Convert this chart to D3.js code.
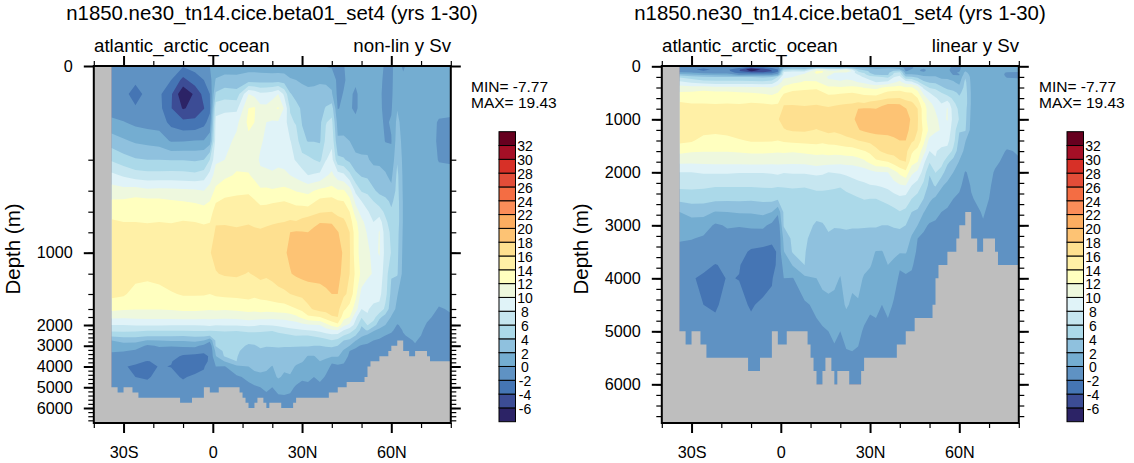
<!DOCTYPE html>
<html>
<head>
<meta charset="utf-8">
<script src="https://cdn.jsdelivr.net/npm/d3@7"></script>
<style>
  body { margin: 0; background: #fff; }
  text { font-family: "Liberation Sans", Arial, sans-serif; fill: #000; }
</style>
</head>
<body>
<svg id="chart" width="1134" height="463"></svg>
<script>
// contour levels and fill colours (one colour more than levels)
var levels = [-6,-4,-2,0,2,4,6,8,10,12,14,16,18,20,22,24,26,28,30,32];
var colors = ["#2c2366","#3c4c95","#4575b4","#5f92c3","#74add1","#8fc1de","#abd9e9","#c6e6f0","#e0f3f8",
  "#eef8de","#ffffbf","#fff0a6","#fee090","#fdc374","#fdae61","#fc8d59","#f46d43","#e34d38","#d73027","#a50f26","#67001f"];

var depths = [0,30,60,90,120,160,200,300,400,500,600,700,800,1000,1200,1400,1600,1800,2000,2250,2500,2750,3000,3250,3500,3750,4000,4500,5000,6000];
var lats = [-34,-30,-26,-22,-18,-14,-10,-6,-3,-1,1,4,8,12,14,16,18,20,22,24,26,28,30,32,34,36,38,40,42,44,46,48,50,52,54,56,58,60,62,64,68,72,76,80];

// Sv, one line per latitude, one value per depth
var psi = [
  [-1.6,-1.5,-1.4,-1,0.5,3,5.7,8.5,11,12.2,13.2,14.3,14.8,15.5,15.5,14.6,12.5,10.5,8,6.5,4.6,2,1.6,0.2,-0.6,-1,-1.3,-1.4,-1.4,-1.4],
  [-1.7,-1.8,-1.7,-1.3,0.1,2.3,4.8,7.7,10.7,12.3,13.2,14,14.8,15.5,15.8,14.3,12.2,10.4,8,6.5,4.8,2.7,1,0.1,-1,-1.6,-1.9,-1.7,-1.5,-1.5],
  [-1.6,-1.8,-2.4,-1.9,-0.5,1.7,4.2,6.9,11,12.6,13.3,14,14.9,15.6,14.8,13.2,12.1,10.5,8.2,6.4,4.8,2.6,1,-0.3,-1,-1.7,-2.2,-2,-1.5,-1.5],
  [-1.5,-1.6,-1.7,-1.5,-0.8,1.4,4,6.7,10.5,12.5,13.3,13.9,14.7,15.6,14.6,13,12.1,10.6,8.2,6.2,4.5,1.9,-0.3,-1,-1.4,-2.05,-2.6,-2.2,-1.5,-1.5],
  [-1.2,-1.4,-1.6,-1.4,-0.9,1.1,4,6.7,10.6,12.5,13.4,14,14.8,15.7,14.9,13.2,12.1,10.6,8.2,6.2,4.4,2,0.2,-0.6,-1.3,-1.8,-1.9,-1.5,-1.4,-1.4],
  [-1.6,-2,-3.7,-3.9,-2.6,-0.2,3.9,6.8,10.5,12.2,13.3,13.9,14.8,15.7,15.3,13.8,12.2,10.6,8.1,6.2,4.4,2.2,0.1,-0.7,-1.3,-1.9,-2.05,-1.5,-1.3,-1.3],
  [-1.8,-4.6,-7.7,-6.2,-3.5,-0.1,3.9,6.7,10.4,12,13.2,14.1,15,15.8,15.4,14.2,12.4,10.7,8.1,6.2,4.3,2.2,0.3,-0.9,-2.3,-2.8,-2.8,-2.2,-1.4,-1.3],
  [-1.3,-2.9,-5.6,-5.3,-3.5,0.1,3.7,6.5,10.3,11.8,13,14,15,15.8,15.5,14.2,12.4,10.7,8.1,6.3,4.5,2.5,0.4,-1.1,-2.5,-3,-3,-1.6,-1.3,-1.3],
  [-0.8,-2,-3.3,-4.1,-2.6,0.1,4,7,10,11.5,12.7,13.7,15,15.9,15.4,14.2,12.3,10.6,8.2,6.3,4.6,2,-0.5,-1.6,-2.5,-2.9,-2.2,-1.5,-1,-1],
  [0,-0.8,-2,-2.5,-1.2,1,6,8.7,11,12,13,13.9,15.2,15.9,15.4,14,12.2,10.6,8.4,6.2,4.3,0.5,-1.7,-1.9,-1.8,-1.5,-0.8,-0.7,-0.7,-0.7],
  [0.6,2.2,4.3,7.3,8.5,8.9,9.6,11,12.4,13.8,15,15.9,16.2,16.5,15.9,14.3,12.3,10.6,8.1,6.2,4.8,4.3,4.2,2.5,1.9,0.5,0,-0.5,-0.7,-0.7],
  [0.8,2.8,5,7.6,8.8,9.2,10,11.6,13.2,14.4,15.1,15.8,16.5,17,16.2,14.5,12.2,10.5,8.2,6.3,5,5.6,5.2,4.5,4.2,2.1,-0.1,-0.8,-1,-1],
  [1,2.6,4.8,7.5,9.5,10.5,11.4,12.2,13.4,14.7,15.5,15.9,16.1,16.8,16.3,14.6,12.4,10.6,8.2,6.2,4.8,4.5,4.5,4.3,4.1,4,1.5,-0.3,-0.8,-1],
  [1.2,3,10,12,12.5,11.5,11,12.2,13.6,14.8,15.7,15.9,16.3,17,15.9,14.8,12.6,11,8.5,6.5,5.2,4.4,3.8,3.2,3,2.5,2,0.4,-0.4,-1.5],
  [1.2,3,9.5,12.2,12,11,10.5,11.5,13,14.2,15.3,15.8,16.2,17.1,16.2,14.5,12.5,10.9,8.3,6.6,5.1,4.4,3.9,3.6,3.2,2.7,2.6,1.2,-0.3,-1.3],
  [1.1,3,8.5,10.6,10.5,10.2,9.8,10.3,12.4,13.5,14.8,15.6,16.2,17.2,16.6,14.7,12.8,10.8,8,6.5,5,4.5,4.2,3.8,3.3,2.8,2.7,1.5,0,-1.1],
  [1,3,8.6,10.5,10,9.7,9.5,10.4,12.4,13.6,14.8,15.7,16.4,17.3,16.3,14.9,12.7,10.7,8.1,6.4,4.9,4.5,4.1,3.6,3.2,2.7,2.4,1.5,0.3,-1],
  [0.9,3,9,11.5,9.8,9.2,9,10.4,12.2,13.8,14.8,15.8,16.6,17.5,16.5,15.2,12.8,10.6,8.2,6.2,4.9,4.4,4.1,3.7,3.1,2.5,1.9,1.2,0,-1],
  [1,3,10,12.2,9.8,9.2,9.3,10.7,12.3,13.9,15,15.9,17,17.6,17,15.4,13,10.7,8.4,6.8,5.1,4.3,4.1,3.8,3.4,3.2,3,2.3,0.5,-1],
  [1,2.9,7.6,9.8,9.2,9,9.2,10.5,12.5,14,15.3,16,17.5,17.8,17.4,15.6,13.1,10.7,8.6,7.2,5.4,4.3,4.1,3.7,3.3,2.8,2.5,1.6,0.6,-1],
  [0.8,2.2,4.2,5.8,6.4,8.1,8.6,10,12.3,13.7,15.2,16.2,18,18.3,17.9,16,13.5,11,8.8,7.5,5.8,4.4,4.1,3.7,3.2,2.7,2.6,1.8,0.4,-1],
  [0.7,2,3.2,4.8,5.8,7,7.8,9.5,11.9,13.3,15,16.1,18.2,18.7,18.3,16.3,13.9,11.6,8.9,7.7,6.1,4.5,4.1,3.6,3,2.5,1.8,0.7,-0.2,-1],
  [0.4,1.7,2.8,3.6,3.9,4.5,6.9,8.8,11.7,13.2,15,16.6,18.1,18.9,18.6,16.5,14.5,12.5,9.4,7.9,6,4.6,4.1,3.5,2.6,2.1,1.6,0.4,-0.7,-1],
  [0.2,1.5,2.5,3,3.5,3.9,6.5,8,11.5,13,15,17,18,19.2,18.8,16.8,15.6,13.6,9.8,8,6,4.7,4.1,3.5,1.9,1.6,1.4,0.5,-0.5,-1],
  [0.2,1.6,2.5,3,3.5,3.9,6,8.2,12,13.8,15.4,17.4,18.6,19.3,18.9,16.9,16.2,13.8,9.9,8.2,6.3,4.8,4,3.2,1.9,1.5,1.3,0,-0.6,-1],
  [0.2,1.8,2.5,3,3.5,3.8,5.5,8.5,12.5,14.5,15.8,17.9,19,19.4,19,17,16.8,14,10,8.5,6.7,5,4,3.2,2.6,2,1.4,0.6,-0.6,-1],
  [-0.1,1.7,2.6,4.2,5.9,6.5,7.9,9.7,12.6,14.7,15.9,17.9,18.8,19.3,18.9,17.6,16.7,15,11.3,9.2,7.1,5.4,4.2,3.1,2.4,1.6,0.7,-0.2,-0.8,-1],
  [-0.3,1.5,2.2,5,6.5,7.5,8.7,10.5,12.7,14.8,16,17.9,18.5,19.2,18.8,18,16.5,15.9,12.5,9.8,7.5,5.9,4.4,3,2.2,0.2,-0.3,-0.5,-0.8,-1],
  [-0.5,-0.6,-0.5,-0.1,1.2,2.3,4.5,9,12.2,14.2,15.3,17,18.1,18.6,18.6,18,16.6,16,13.5,10,7.2,5.5,4,2.8,2.2,0.6,-0.3,-0.6,-0.8,-1],
  [-0.1,-0.2,0.1,0.3,1,2.4,4.2,8.5,12.2,14,15,16.5,17.3,17.8,17.4,16.4,14.4,12.8,10.5,8,6,4,2.6,1.8,1,0.2,-0.3,-0.6,-0.8,-1],
  [0.8,0.5,0.2,0.2,0.8,2,3.5,6.5,11,12.5,14,15,16,16.2,16,15.5,13.2,12,9.5,7,5.3,3.6,2,0,-0.4,-0.6,-0.7,-0.8,-0.9,-1],
  [1,0.2,-0.2,-0.3,0.4,1.2,2.5,4.5,7.5,9.5,11,12.5,13,13,13.6,12.6,11,8.5,7.2,5.5,4,2.1,0.4,-0.4,-0.6,-0.7,-0.8,-0.9,-1,-1],
  [0.8,0.5,0.4,0.6,0.9,1.2,2.3,3.8,5.8,8,9.2,10.5,11,11,11.5,9.3,8,6.2,4.2,3.4,2.4,1,-0.2,-0.5,-0.7,-0.8,-0.9,-1,-1,-1],
  [0.9,0.8,0.5,0.8,1,1.4,2.2,3.6,5.5,7,8.2,9.2,9.8,10.5,10.5,8.5,8.1,7.9,6.1,4.2,1.6,0.5,-0.3,-0.6,-0.7,-0.8,-0.9,-1,-1,-1],
  [0.8,0.7,0.5,0.3,0.6,0.9,1.5,2.9,4.3,6,7.2,8,8.4,9.3,9.8,8.5,7.7,6.9,5,2.2,1.2,0,-0.4,-0.6,-0.7,-0.8,-0.9,-1,-1,-1],
  [0.7,0.5,0.3,0.3,0.5,1,1.6,2.6,3.5,5,7,9,10.2,10.2,9,8.5,7.5,4.5,2.8,1.6,0.4,-0.2,-0.5,-0.7,-0.8,-0.9,-1,-1,-1,-1],
  [-0.3,-0.5,-0.5,-0.4,-0.3,-0.1,1.3,2.2,3,4.6,5.5,6.5,7,7.3,7.2,6.8,5.5,3.2,2,1,0,-0.4,-0.6,-0.7,-0.8,-1,-1,-1,-1,-1],
  [-0.2,-0.2,-0.2,-0.2,0.2,-0.1,0.5,1.5,2.5,3.6,4.3,5,5.6,5.9,4.2,3.4,2.8,1.9,1,0.3,-0.3,-0.5,-0.7,-0.8,-1,-1,-1,-1,-1,-1],
  [0.5,0.6,0.8,1.9,2.5,3,3.8,4.5,4.7,4.9,5,5,4.7,4.5,4.2,2.1,1.6,0.9,-0.1,-0.5,-0.6,-0.9,-1,-1,-1,-1,-1,-1,-1,-1],
  [-0.2,0.3,0.8,1,1.2,1.4,1.5,1.6,1.7,1.8,1.8,1.8,1.7,1.5,1.3,1,0.8,0.5,0.3,0.1,-0.1,-0.4,-0.6,-0.8,-1,-1,-1,-1,-1,-1],
  [1,1,1,1,1,1,1,1,1,1,1,1,1,1,1,1,0.9,0.8,0.7,0.6,0.4,0.1,-0.1,-0.3,-0.5,-0.7,-0.9,-1,-1,-1],
  [1,1,1,1,1,1,1,1,1,1,1,1,1,1,1,0.9,0.6,0.2,-0.1,-0.3,-0.4,-0.5,-0.6,-0.7,-0.8,-0.8,-0.8,-0.8,-0.8,-0.8],
  [1,1,1,0.6,-0.2,-0.3,-0.1,0.5,0.9,1,1,1,1,1,0.9,0.5,-0.1,-0.3,-0.4,-0.5,-0.5,-0.6,-0.6,-0.6,-0.6,-0.6,-0.6,-0.6,-0.6,-0.6],
  [1,1,1,0.5,-0.3,-0.4,-0.2,0.5,0.9,1,1,1,1,1,1,0.5,0.1,-0.1,-0.3,-0.4,-0.5,-0.5,-0.5,-0.5,-0.5,-0.5,-0.5,-0.5,-0.5,-0.5]
];

// sea floor, held until the next latitude
var floorLats = [-40,-34,-32,-30,-27,-25,-11,-7,-3,-1,2,9,10,11,12,14,15,17,18,19,23,27,28,39,42,45,51,52,53,56,59,60,62,64,66,68,72,73,80];
var floorDepths = [0,5000,5250,5000,5250,5500,5750,5500,5000,5250,5000,5250,5500,5750,6000,5750,5500,5750,6000,5750,6000,5750,5500,5250,5000,4750,4500,4000,3750,3500,3250,3000,2750,3250,3500,3250,3500,3750,3750];

var title = "n1850.ne30_tn14.cice.beta01_set4 (yrs 1-30)";
var basin = "atlantic_arctic_ocean";
var minLabel = "MIN= -7.77", maxLabel = "MAX= 19.43";
var latTicks = [-30,0,30,60], latMinor = [-40,-20,-10,10,20,40,50,70,80];
var depthMajor = [0,1000,2000,3000,4000,5000,6000];
var depthMinor = d3.range(200, 6800, 200);

// stops of the stretched depth axis on the left panel
var stretchDepth = [0,200,400,600,800,1000,1200,1400,1600,1800,2000,6000,6730];
var stretchY = [66,159.7,190.7,211.7,232.3,252.7,273.7,294,309,317,325,408,423];

var svg = d3.select("#chart");
var top_ = 66, bottom_ = 423;

var flat = [];
depths.forEach(function (d, j) {
  lats.forEach(function (l, i) { flat.push(psi[i][j]); });
});
var contours = d3.contours().size([lats.length, depths.length]).thresholds(levels)(flat);
var latOfGrid = d3.scaleLinear().domain(d3.range(lats.length)).range(lats).clamp(true);
var depthOfGrid = d3.scaleLinear().domain(d3.range(depths.length)).range(depths).clamp(true);

function latLabel(v) {
  if (v === 0) return "0";
  return v < 0 ? -v + "S" : v + "N";
}

function drawPanel(cfg) {
  var g = svg.append("g").attr("transform", "translate(" + cfg.dx + ",0)");
  var x = d3.scaleLinear().domain([-40, 80]).range([93.8, 450.8]);
  var y = cfg.y;
  var clipId = "clip" + cfg.dx;

  g.append("clipPath").attr("id", clipId).append("rect")
    .attr("x", x(-40)).attr("y", top_).attr("width", x(80) - x(-40)).attr("height", bottom_ - top_);

  var plot = g.append("g").attr("clip-path", "url(#" + clipId + ")");
  plot.append("rect").attr("x", x(-40)).attr("y", top_)
    .attr("width", x(80) - x(-40)).attr("height", bottom_ - top_).attr("fill", colors[0]);

  var path = d3.geoPath(d3.geoTransform({
    point: function (gx, gy) {
      this.stream.point(x(latOfGrid(gx - 0.5)), y(depthOfGrid(gy - 0.5)));
    }
  }));
  plot.selectAll("path.band").data(contours).enter().append("path")
    .attr("class", "band")
    .attr("d", path)
    .attr("fill", function (d, i) { return colors[i + 1]; });

  var floorData = floorLats.map(function (l, i) { return [l, floorDepths[i]]; });
  plot.append("path")
    .datum(floorData)
    .attr("fill", "#bebebe")
    .attr("d", d3.area().curve(d3.curveStepAfter)
      .x(function (d) { return x(d[0]); })
      .y0(bottom_ + 2)
      .y1(function (d) { return y(d[1]); }));

  // axes, ticks mirrored on all four sides
  function styleAxis(sel, w) {
    sel.select(".domain").remove();
    sel.selectAll("line").attr("stroke", "#000").attr("stroke-width", w);
    sel.selectAll("text").style("font-size", "16.2px");
  }
  g.append("g").attr("transform", "translate(0," + bottom_ + ")")
    .call(d3.axisBottom(x).tickValues(latTicks).tickSize(10).tickPadding(13.5).tickFormat(latLabel))
    .call(styleAxis, 2);
  g.append("g").attr("transform", "translate(0," + bottom_ + ")")
    .call(d3.axisBottom(x).tickValues(latMinor).tickSize(5).tickFormat(""))
    .call(styleAxis, 1.2);
  g.append("g").attr("transform", "translate(0," + top_ + ")")
    .call(d3.axisTop(x).tickValues(latTicks).tickSize(10).tickFormat(""))
    .call(styleAxis, 2);
  g.append("g").attr("transform", "translate(0," + top_ + ")")
    .call(d3.axisTop(x).tickValues(latMinor).tickSize(5).tickFormat(""))
    .call(styleAxis, 1.2);

  g.append("g").attr("transform", "translate(" + x(-40) + ",0)")
    .call(d3.axisLeft(y).tickValues(depthMajor).tickSize(10).tickPadding(11).tickFormat(d3.format("d")))
    .call(styleAxis, 2);
  g.append("g").attr("transform", "translate(" + x(-40) + ",0)")
    .call(d3.axisLeft(y).tickValues(depthMinor).tickSize(5.5).tickFormat(""))
    .call(styleAxis, 1.2);
  g.append("g").attr("transform", "translate(" + x(80) + ",0)")
    .call(d3.axisRight(y).tickValues(depthMajor).tickSize(10).tickFormat(""))
    .call(styleAxis, 2);
  g.append("g").attr("transform", "translate(" + x(80) + ",0)")
    .call(d3.axisRight(y).tickValues(depthMinor).tickSize(5.5).tickFormat(""))
    .call(styleAxis, 1.2);

  g.append("rect").attr("x", x(-40)).attr("y", top_)
    .attr("width", x(80) - x(-40)).attr("height", bottom_ - top_)
    .attr("fill", "none").attr("stroke", "#000").attr("stroke-width", 2);

  // titles
  g.append("text").attr("x", 272).attr("y", 19.5).attr("text-anchor", "middle")
    .style("font-size", "20.4px").text(title);
  g.append("text").attr("x", 94).attr("y", 52).style("font-size", "18.7px").text(basin);
  g.append("text").attr("x", 451).attr("y", 52).attr("text-anchor", "end")
    .style("font-size", "18.7px").text(cfg.label);
  g.append("text").attr("transform", "translate(20,249) rotate(-90)").attr("text-anchor", "middle")
    .style("font-size", "20.5px").text("Depth (m)");

  g.append("text").attr("x", 471).attr("y", 91.5).style("font-size", "15.5px").text(minLabel);
  g.append("text").attr("x", 471).attr("y", 108).style("font-size", "15.5px").text(maxLabel);

  // colour bar
  var bar = d3.scaleLinear().domain([0, colors.length]).range([421.7, 131.7]);
  g.append("g").selectAll("rect").data(colors).enter().append("rect")
    .attr("x", 499).attr("width", 16.5)
    .attr("y", function (d, i) { return bar(i + 1); })
    .attr("height", function (d, i) { return bar(i) - bar(i + 1); })
    .attr("fill", function (d) { return d; })
    .attr("stroke", "#000").attr("stroke-width", 1);
  g.append("g").selectAll("text").data(levels).enter().append("text")
    .attr("x", 525).attr("y", function (d, i) { return bar(i + 1); })
    .attr("dy", "0.42em").attr("text-anchor", "middle")
    .style("font-size", "14px")
    .text(function (d) { return d; });
}

drawPanel({
  dx: 0, label: "non-lin y Sv",
  y: d3.scaleLinear().domain(stretchDepth).range(stretchY)
});
drawPanel({
  dx: 568, label: "linear y Sv",
  y: d3.scaleLinear().domain([0, 6730]).range([66.3, 423])
});
</script>
</body>
</html>
